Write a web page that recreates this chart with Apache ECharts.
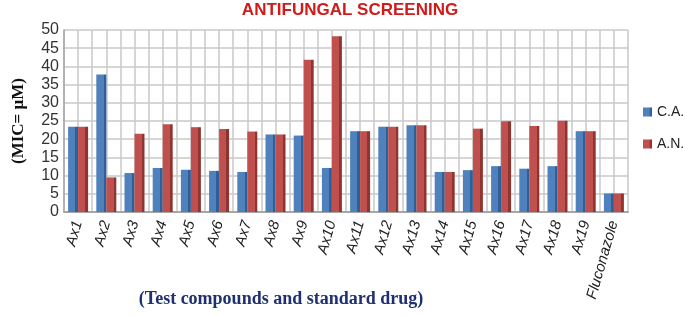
<!DOCTYPE html>
<html>
<head>
<meta charset="utf-8">
<script src="https://cdn.jsdelivr.net/npm/echarts@6/dist/echarts.min.js"></script>
<style>
  html, body { margin: 0; padding: 0; background: #fff; }
  #chart { width: 685px; height: 316px; }
</style>
</head>
<body>
<div id="chart"></div>
<script>
const categories = ['Ax1', 'Ax2', 'Ax3', 'Ax4', 'Ax5', 'Ax6', 'Ax7', 'Ax8', 'Ax9', 'Ax10',
  'Ax11', 'Ax12', 'Ax13', 'Ax14', 'Ax15', 'Ax16', 'Ax17', 'Ax18', 'Ax19', 'Fluconazole'];
const caValues = [23.4, 37.8, 10.7, 12.1, 11.6, 11.3, 11.0, 21.3, 21.0, 12.1,
  22.2, 23.4, 23.8, 11.0, 11.5, 12.6, 11.9, 12.6, 22.2, 5.1];
const anValues = [23.4, 9.5, 21.5, 24.1, 23.3, 22.8, 22.1, 21.3, 41.8, 48.3,
  22.2, 23.4, 23.8, 11.0, 22.9, 24.9, 23.6, 25.1, 22.2, 5.1];
const yTicks = [0, 5, 10, 15, 20, 25, 30, 35, 40, 45, 50];

// half-category wall grid
const halfSlots = [];
categories.forEach((c) => { halfSlots.push(c + 'a', c + 'b'); });

function barColor(light, dark) {
  return new echarts.graphic.LinearGradient(0, 0, 1, 0, [
    { offset: 0, color: light },
    { offset: 0.72, color: light },
    { offset: 0.73, color: dark },
    { offset: 1, color: dark }
  ]);
}

const myChart = echarts.init(document.getElementById('chart'));
myChart.setOption({
  animation: false,
  title: {
    text: 'ANTIFUNGAL SCREENING',
    left: 345,
    textAlign: 'center',
    top: -3,
    textStyle: { color: '#D11A1A', fontSize: 17, fontWeight: 'bold', fontFamily: 'Liberation Sans' }
  },
  legend: {
    orient: 'vertical',
    left: 638,
    top: 100,
    itemGap: 18,
    itemWidth: 9,
    itemHeight: 9,
    icon: 'rect',
    textStyle: { color: '#222', fontSize: 14, fontFamily: 'Liberation Sans' },
    data: ['C.A.', 'A.N.']
  },
  grid: {
    left: 64,
    right: 57,
    top: 30,
    bottom: 104,
    containLabel: false,
    outerBoundsMode: 'none'
  },
  xAxis: [
    {
      type: 'category',
      data: categories,
      axisTick: { show: false },
      axisLine: { lineStyle: { color: '#A6A6A6', width: 2 } },
      axisLabel: {
        interval: 0,
        rotate: 74,
        color: '#222',
        fontSize: 15,
        fontStyle: 'italic',
        fontFamily: 'Liberation Sans',
        margin: 9
      },
      name: '(Test compounds and standard drug)',
      nameLocation: 'middle',
      nameGap: 78,
      nameMoveOverlap: false,
      nameTextStyle: {
        color: '#1F3070',
        fontSize: 18,
        fontWeight: 'bold',
        fontFamily: 'Liberation Serif',
        padding: [0, 130, 0, 0]
      }
    },
    {
      type: 'category',
      data: halfSlots,
      position: 'bottom',
      axisLine: { show: false },
      axisTick: { show: false },
      axisLabel: { show: false },
      splitLine: { show: true, interval: 0, lineStyle: { color: '#C8C8C8', width: 1.5 } }
    }
  ],
  yAxis: {
    type: 'value',
    min: 0,
    max: 50,
    interval: 5,
    axisLine: { show: true, lineStyle: { color: '#A6A6A6', width: 1.5 } },
    axisTick: { show: false },
    axisLabel: {
      color: '#333',
      fontSize: 16,
      fontFamily: 'Liberation Sans',
      margin: 5,
      formatter: (v) => (yTicks.includes(v) ? String(v) : '')
    },
    splitLine: { lineStyle: { color: '#C8C8C8', width: 1.5 } },
    name: '(MIC= µM)',
    nameLocation: 'middle',
    nameGap: 37,
    nameMoveOverlap: false,
    nameTextStyle: { color: '#111', fontSize: 17, fontWeight: 'bold', fontFamily: 'Liberation Serif' }
  },
  series: [
    {
      name: 'C.A.',
      type: 'bar',
      xAxisIndex: 0,
      data: caValues,
      barWidth: 10,
      barGap: '0%',
      itemStyle: { color: barColor('#4F81BD', '#2E5F99') }
    },
    {
      name: 'A.N.',
      type: 'bar',
      xAxisIndex: 0,
      data: anValues,
      barWidth: 10,
      barGap: '0%',
      itemStyle: { color: barColor('#C0504D', '#8E3431') }
    }
  ]
});
</script>
</body>
</html>
